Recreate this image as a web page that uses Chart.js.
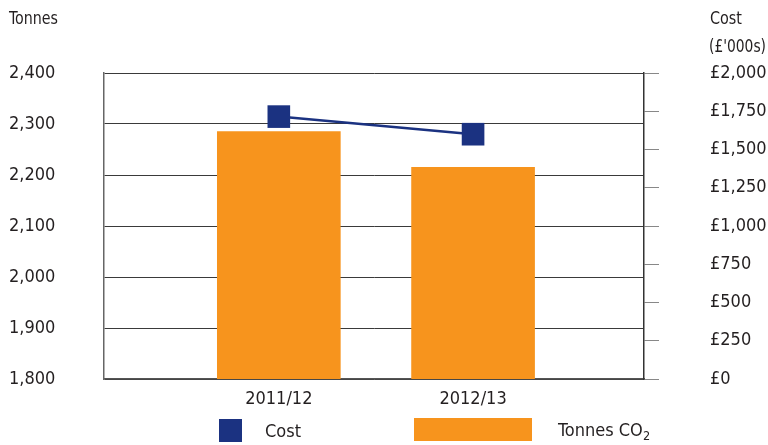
<!DOCTYPE html>
<html>
<head>
<meta charset="utf-8">
<script src="https://cdn.jsdelivr.net/npm/chart.js@4"></script>
<style>
  body { margin: 0; background: #fff; }
  #wrap { position: relative; width: 768px; height: 445px; }
  .lg { position: absolute; color: #231f20; line-height: 24px; }
  .lg sub { font-size: 70%; vertical-align: -4px; line-height: 0; }
  .sw { position: absolute; }
</style>
</head>
<body>
<div id="wrap">
  <canvas id="chart" width="768" height="445"></canvas>
  <div class="sw" style="left:219px;top:419px;width:23px;height:23px;background:#1b3281"></div>
  <div class="lg" style="left:265px;top:419px;">Cost</div>
  <div class="sw" style="left:414px;top:418px;width:118px;height:23px;background:#f7941d"></div>
  <div class="lg" style="left:558px;top:418px;">Tonnes CO<sub>2</sub></div>
</div>
<script>
// chart values
const categories = ['2011/12', '2012/13'];
const tonnes = [2285, 2215];
const cost = [1715, 1600];

const TEXT = '#231f20';

// look for a narrow face among the installed fonts, the reference uses a condensed one
function pickFont() {
  const c = document.createElement('canvas').getContext('2d');
  const w = f => { c.font = f; return c.measureText('Tonnes 2,400').width; };
  const mono = w('20px monospace');
  const tries = [
    ['', '"Liberation Sans Narrow"'],
    ['', '"DejaVu Sans Condensed"'],
    ['', '"Noto Sans Condensed"'],
    ['', '"Open Sans Condensed"'],
    ['condensed', '"Noto Sans"'],
    ['condensed', '"Open Sans"'],
    ['condensed', '"DejaVu Sans"'],
    ['condensed', '"Liberation Sans"']
  ];
  for (const [st, fam] of tries) {
    const plain = w('20px ' + fam + ', monospace');
    if (Math.abs(plain - mono) < 0.5) continue;
    if (st) {
      const narrow = w(st + ' 20px ' + fam + ', monospace');
      if (narrow > plain * 0.95) continue;
    }
    return { stretch: st, family: fam };
  }
  return { stretch: '', family: '"Liberation Sans"' };
}
const pick = pickFont();
const FAMILY = pick.family + ', sans-serif';
// fit the size so "2,400" is about as wide as in the reference
const meas = (() => {
  const c = document.createElement('canvas').getContext('2d');
  c.font = (pick.stretch ? pick.stretch + ' ' : '') + '20px ' + FAMILY;
  return c.measureText('2,400').width;
})();
const SIZE = Math.max(17, Math.min(20, Math.round(20 * 46 / meas)));
const FONT = { family: FAMILY, size: SIZE, weight: pick.stretch || undefined };
const CSSFONT = (pick.stretch ? pick.stretch + ' ' : '') + SIZE + 'px ' + FAMILY;

document.querySelectorAll('.lg').forEach(el => {
  el.style.fontFamily = FAMILY;
  el.style.fontSize = SIZE + 'px';
  if (pick.stretch) el.style.fontStretch = pick.stretch;
});

// titles above the two axes, squeezed to the widths seen in the reference
const titleTexts = [
  ['Tonnes', 9, 19, 49],
  ['Cost', 710, 19, 32],
  ["(£'000s)", 709, 47, 57]
];
const titles = {
  id: 'titles',
  afterDraw(chart) {
    const c = chart.ctx;
    c.save();
    c.font = CSSFONT;
    c.fillStyle = TEXT;
    c.textBaseline = 'middle';
    c.textAlign = 'left';
    titleTexts.forEach(([t, x, y, maxW]) => {
      const k = Math.min(1, maxW / c.measureText(t).width);
      c.save();
      c.translate(x, y);
      c.scale(k, 1);
      c.fillText(t, 0, 0);
      c.restore();
    });
    c.restore();
  }
};

function noPad(s) {
  s.paddingTop = 0; s.paddingBottom = 0; s.paddingLeft = 0; s.paddingRight = 0;
}

new Chart(document.getElementById('chart'), {
  type: 'bar',
  data: {
    datasets: [{
      type: 'line',
      label: 'Cost',
      data: cost.map((v, i) => ({ x: i, y: v })),
      yAxisID: 'y1',
      borderColor: '#1b3281',
      backgroundColor: '#1b3281',
      borderWidth: 2.5,
      pointStyle: 'rect',
      pointRadius: 16,
      pointBorderWidth: 0,
      order: 0
    }, {
      label: 'Tonnes CO2',
      data: tonnes.map((v, i) => ({ x: i, y: v })),
      yAxisID: 'y',
      backgroundColor: '#f7941d',
      barThickness: 123,
      grouped: false,
      order: 1
    }]
  },
  options: {
    responsive: false,
    animation: false,
    layout: { padding: { top: 73, left: 9, right: 0, bottom: 0 } },
    plugins: { legend: { display: false }, tooltip: { enabled: false } },
    scales: {
      x: {
        type: 'linear',
        offset: false,
        min: -0.9,
        max: 1.88,
        afterBuildTicks: a => { a.ticks = categories.map((c, i) => ({ value: i })); },
        afterFit: s => { s.height = 66; noPad(s); },
        grid: { display: false },
        border: { display: true, color: '#555', width: 1.5 },
        ticks: {
          padding: 2,
          color: TEXT,
          font: FONT,
          callback: v => categories[v] ?? ''
        }
      },
      y: {
        position: 'left',
        min: 1800,
        max: 2400,
        afterFit: s => { s.width = 95; noPad(s); },
        grid: { color: '#3a3a3a', lineWidth: 1, drawTicks: false },
        border: { display: true, color: '#666', width: 1.5 },
        ticks: {
          stepSize: 100,
          crossAlign: 'far',
          color: TEXT,
          font: FONT,
          callback: v => v.toLocaleString('en-GB')
        }
      },
      y1: {
        position: 'right',
        min: 0,
        max: 2000,
        afterFit: s => { s.width = 124; noPad(s); },
        grid: { drawOnChartArea: false, drawTicks: true, tickLength: 15, color: '#888' },
        border: { display: true, color: '#333', width: 1.5 },
        ticks: {
          stepSize: 250,
          padding: 51,
          color: TEXT,
          font: FONT,
          callback: v => '£' + v.toLocaleString('en-GB')
        }
      }
    }
  },
  plugins: [titles]
});
</script>
</body>
</html>
